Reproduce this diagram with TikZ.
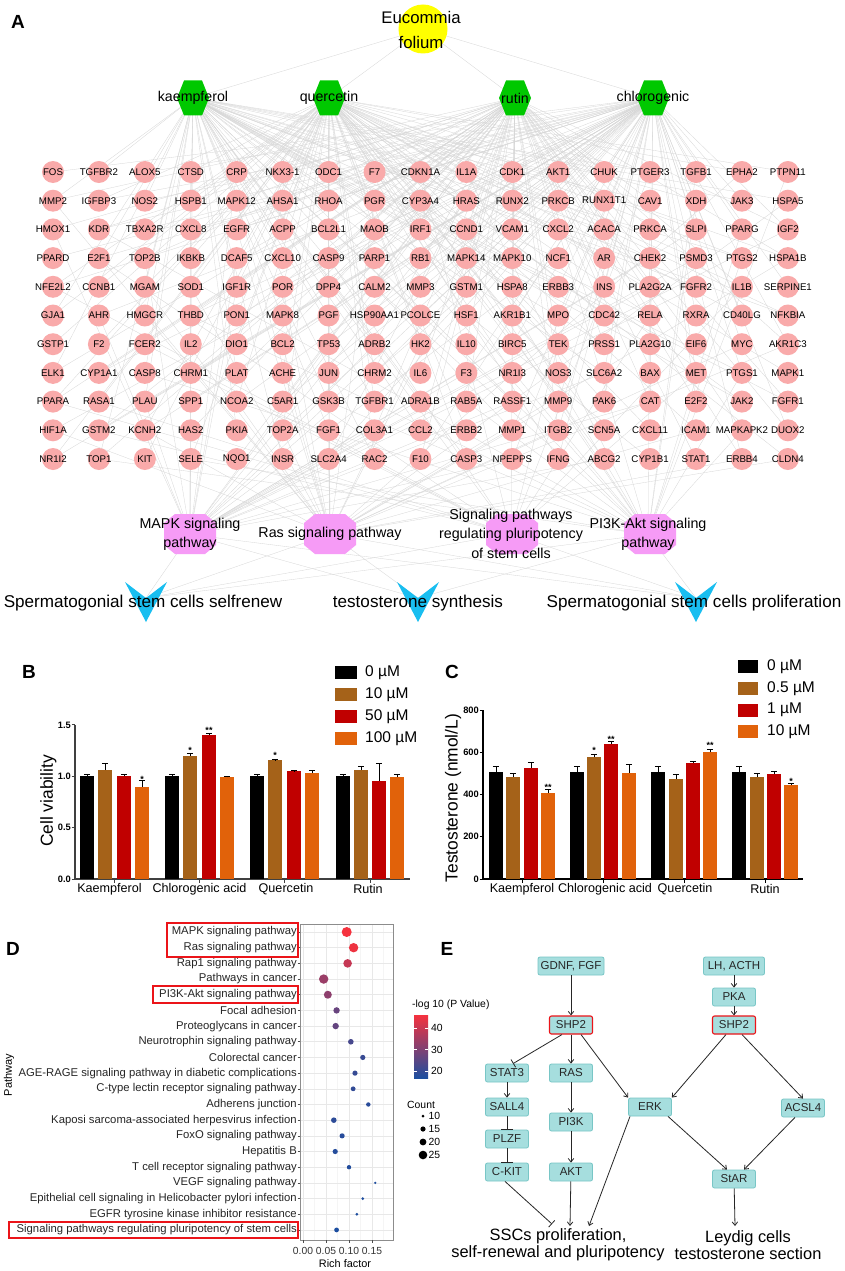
\documentclass[tikz,border=0pt]{standalone}
\usepackage{fontspec}
\setmainfont{Liberation Sans}
\usetikzlibrary{arrows.meta,calc}
\newcommand{\fsz}[2]{\fontsize{#1}{#2}\selectfont}
\pgfdeclarelayer{bg}
\pgfsetlayers{bg,main}
\definecolor{genepink}{RGB}{249,170,170}
\definecolor{hexgreen}{RGB}{0,200,0}
\definecolor{octpink}{RGB}{246,155,246}
\definecolor{chevblue}{RGB}{25,190,240}
\definecolor{eyellow}{RGB}{255,255,0}
\definecolor{cBrown}{RGB}{165,98,25}
\definecolor{cRed}{RGB}{192,0,0}
\definecolor{cOrange}{RGB}{225,98,10}
\definecolor{dRed}{RGB}{245,50,62}
\definecolor{dBlue}{RGB}{28,78,160}
\definecolor{boxfill}{RGB}{166,222,222}
\definecolor{boxline}{RGB}{120,198,198}
\definecolor{edgegray}{RGB}{214,214,214}
\definecolor{redbox}{RGB}{235,20,25}
\newcommand{\vbar}[6]{%
  \fill[#6] ({#1-6.7},#2) rectangle ({#1+6.7},{#2-#3*#4});
  \draw[line width=1pt] (#1,{#2-#3*#4}) -- (#1,{#2-#3*(#4+#5)})
    ({#1-3.2},{#2-#3*(#4+#5)}) -- ({#1+3.2},{#2-#3*(#4+#5)});
}
\begin{document}
\begin{tikzpicture}[x=1pt,y=-1pt,
  netedge/.style={draw=edgegray,line width=0.3pt},
  gene/.style={circle,fill=genepink,minimum size=22pt,inner sep=0pt},
  genelbl/.style={font=\fsz{9.7}{11},inner sep=0pt},
  cplbl/.style={font=\fsz{14.2}{16},inner sep=0pt},
  pwlbl/.style={font=\fsz{14.3}{19.5},align=center,inner sep=0pt},
  outlbl/.style={font=\fsz{17.1}{20},inner sep=0pt},
  panel/.style={font=\fsz{19}{22}\bfseries,inner sep=0pt},
  ticklbl/.style={font=\fsz{9.3}{10}\bfseries,inner sep=0pt},
  catlbl/.style={font=\fsz{12.6}{14},inner sep=0pt},
  leglbl/.style={font=\fsz{15.5}{17},inner sep=0pt,anchor=west},
  starlbl/.style={font=\fsz{9}{10}\bfseries,inner sep=0pt},
  ytitle/.style={font=\fsz{17.4}{19},rotate=90,inner sep=0pt},
  dlbl/.style={font=\fsz{11.3}{13},text=black!85,inner sep=0pt,anchor=east},
  dsmall/.style={font=\fsz{10.3}{12},text=black!80,inner sep=0pt},
  ebox/.style={rectangle,rounded corners=2pt,fill=boxfill,draw=boxline,line width=0.8pt,
    minimum width=43pt,minimum height=18pt,inner sep=2pt,font=\fsz{11.5}{13},text=black!85},
  redb/.style={draw=redbox,line width=1.1pt},
  etext/.style={font=\fsz{16.4}{17},align=center,inner sep=0pt},
  earr/.style={-{Straight Barb[length=3.5pt,width=5.5pt]},line width=0.8pt,black!85},
  einh/.style={-{Bar[width=9pt]},line width=0.8pt,black!85},
  einhw/.style={-{Bar[width=12pt]},line width=0.8pt,black!85}
]
\useasboundingbox (0,0) rectangle (844,1271);

% ================= Panel A =================
\node[panel] (lA) at (18,22) {A};
\node[circle,fill=eyellow,minimum size=49pt,inner sep=0pt] (euc) at (423,29) {};
\node[align=center,font=\fsz{16.8}{25},inner sep=0pt] (euct) at (421,29.5) {Eucommia\\folium};

\foreach \k/\x/\t in {0/193/kaempferol,1/329/quercetin,2/515/rutin,3/653/chlorogenic}{
  \fill[hexgreen] (\x-16,98) -- (\x-9,80.5) -- (\x+9,80.5) -- (\x+16,98) -- (\x+9,115.5) -- (\x-9,115.5) -- cycle;
  \node[cplbl] (cp\k) at (\x,98) {\t};
}

\foreach \g [count=\i from 0] in {FOS,TGFBR2,ALOX5,CTSD,CRP,NKX3-1,ODC1,F7,CDKN1A,IL1A,CDK1,AKT1,CHUK,PTGER3,TGFB1,EPHA2,PTPN11,
MMP2,IGFBP3,NOS2,HSPB1,MAPK12,AHSA1,RHOA,PGR,CYP3A4,HRAS,RUNX2,PRKCB,RUNX1T1,CAV1,XDH,JAK3,HSPA5,
HMOX1,KDR,TBXA2R,CXCL8,EGFR,ACPP,BCL2L1,MAOB,IRF1,CCND1,VCAM1,CXCL2,ACACA,PRKCA,SLPI,PPARG,IGF2,
PPARD,E2F1,TOP2B,IKBKB,DCAF5,CXCL10,CASP9,PARP1,RB1,MAPK14,MAPK10,NCF1,AR,CHEK2,PSMD3,PTGS2,HSPA1B,
NFE2L2,CCNB1,MGAM,SOD1,IGF1R,POR,DPP4,CALM2,MMP3,GSTM1,HSPA8,ERBB3,INS,PLA2G2A,FGFR2,IL1B,SERPINE1,
GJA1,AHR,HMGCR,THBD,PON1,MAPK8,PGF,HSP90AA1,PCOLCE,HSF1,AKR1B1,MPO,CDC42,RELA,RXRA,CD40LG,NFKBIA,
GSTP1,F2,FCER2,IL2,DIO1,BCL2,TP53,ADRB2,HK2,IL10,BIRC5,TEK,PRSS1,PLA2G10,EIF6,MYC,AKR1C3,
ELK1,CYP1A1,CASP8,CHRM1,PLAT,ACHE,JUN,CHRM2,IL6,F3,NR1I3,NOS3,SLC6A2,BAX,MET,PTGS1,MAPK1,
PPARA,RASA1,PLAU,SPP1,NCOA2,C5AR1,GSK3B,TGFBR1,ADRA1B,RAB5A,RASSF1,MMP9,PAK6,CAT,E2F2,JAK2,FGFR1,
HIF1A,GSTM2,KCNH2,HAS2,PKIA,TOP2A,FGF1,COL3A1,CCL2,ERBB2,MMP1,ITGB2,SCN5A,CXCL11,ICAM1,MAPKAPK2,DUOX2,
NR1I2,TOP1,KIT,SELE,NQO1,INSR,SLC2A4,RAC2,F10,CASP3,NPEPPS,IFNG,ABCG2,CYP1B1,STAT1,ERBB4,CLDN4}{
  \pgfmathtruncatemacro\r{div(\i,17)}
  \pgfmathtruncatemacro\c{mod(\i,17)}
  \node[gene] (g\i) at ({53+45.93*\c},{172+28.7*\r}) {};
  \node[genelbl] (gl\i) at (g\i) {\g};
}

% pathway octagons
\foreach \x/\y in {190/534,330/534,512/534,650/534}{
  \fill[octpink] (\x-15,\y-20) -- (\x+15,\y-20) -- (\x+26,\y-11) -- (\x+26,\y+11) -- (\x+15,\y+20) -- (\x-15,\y+20) -- (\x-26,\y+11) -- (\x-26,\y-11) -- cycle;
}
\node[pwlbl] (pw0) at (190,534.5) {MAPK signaling\\pathway};
\node[pwlbl] (pw1) at (330,534) {Ras signaling pathway};
\node[pwlbl] (pw2) at (511,533.5) {Signaling pathways\\regulating pluripotency\\of stem cells};
\node[pwlbl] (pw3) at (648,534.5) {PI3K-Akt signaling\\pathway};

% outcome chevrons
\foreach \x [count=\k from 0] in {146,418,696}{
  \fill[chevblue] (\x-21,582) -- (\x,598) -- (\x+21,582) -- (\x,622) -- cycle;
  \coordinate (ch\k) at (\x,598);
}
\node[outlbl] (o0) at (143,603) {Spermatogonial stem cells selfrenew};
\node[outlbl] (o1) at (418,603) {testosterone synthesis};
\node[outlbl] (o2) at (694,603) {Spermatogonial stem cells proliferation};

\begin{pgfonlayer}{bg}
\fill[white] (0,0) rectangle (844,1271);
\pgfmathsetseed{11}
\foreach \k in {0,...,3} \draw[netedge] (euc.center) -- (cp\k.center);
\foreach \i in {0,...,186}{
  \pgfmathrandominteger{\ka}{0}{3}
  \draw[netedge] (cp\ka.center) -- (g\i.center);
  \pgfmathrandominteger{\kb}{0}{5}
  \ifnum\kb<4 \ifnum\kb=\ka\else \draw[netedge] (cp\kb.center) -- (g\i.center);\fi\fi
  \pgfmathrandominteger{\pa}{0}{6}
  \ifnum\pa<4 \draw[netedge] (pw\pa.center) -- (g\i.center);\fi
}
\foreach \p/\o in {0/0,0/1,0/2,1/0,1/1,1/2,2/0,2/2,3/0,3/1,3/2}
  \draw[netedge] (pw\p.center) -- (ch\o);
\end{pgfonlayer}

% ================= Panel B =================
\node[panel] (lB) at (29,672) {B};
\draw[black!75,line width=1.1pt] (75,725) -- (75,879) -- (410,879);
\foreach \v/\l [count=\k] in {0/0.0,0.5/0.5,1/1.0,1.5/1.5}{
  \draw[black!75,line width=1pt] (71.5,{879-102.7*\v}) -- (75,{879-102.7*\v});
  \node[ticklbl,anchor=east] (bt\k) at (71,{879-102.7*\v}) {\l};
}
\foreach \x in {114.5,199.5,284.5,370} \draw[black!75,line width=1pt] (\x,879) -- (\x,882.5);
\vbar{87}{879}{102.7}{1.0}{0.02}{black}
\vbar{105}{879}{102.7}{1.06}{0.06}{cBrown}
\vbar{124}{879}{102.7}{1.0}{0.02}{cRed}
\vbar{142}{879}{102.7}{0.90}{0.06}{cOrange}
\vbar{172}{879}{102.7}{1.0}{0.02}{black}
\vbar{190}{879}{102.7}{1.20}{0.02}{cBrown}
\vbar{209}{879}{102.7}{1.40}{0.02}{cRed}
\vbar{227}{879}{102.7}{0.99}{0.01}{cOrange}
\vbar{257}{879}{102.7}{1.0}{0.02}{black}
\vbar{275}{879}{102.7}{1.155}{0.006}{cBrown}
\vbar{294}{879}{102.7}{1.05}{0.006}{cRed}
\vbar{312}{879}{102.7}{1.03}{0.03}{cOrange}
\vbar{343}{879}{102.7}{1.0}{0.02}{black}
\vbar{361}{879}{102.7}{1.06}{0.04}{cBrown}
\vbar{379}{879}{102.7}{0.955}{0.165}{cRed}
\vbar{397}{879}{102.7}{0.99}{0.03}{cOrange}
\node[starlbl] (bs1) at (142,779) {*};
\node[starlbl] (bs2) at (190,750) {*};
\node[starlbl] (bs3) at (209,730) {**};
\node[starlbl] (bs4) at (275,755) {*};
\node[ytitle] (byt) at (48.5,801) {Cell viability};
\node[catlbl] (bc1) at (109.5,889) {Kaempferol};
\node[catlbl] (bc2) at (199.5,889) {Chlorogenic acid};
\node[catlbl] (bc3) at (286,889) {Quercetin};
\node[catlbl] (bc4) at (368,889) {Rutin};
\foreach \y/\c/\t [count=\k] in {672.5/black/0 µM,694.5/cBrown/10 µM,716.5/cRed/50 µM,738.5/cOrange/100 µM}{
  \fill[\c] (335,\y-6.5) rectangle (357,\y+6.5);
  \node[leglbl] (bl\k) at (365,\y) {\t};
}

% ================= Panel C =================
\node[panel] (lC) at (452,672) {C};
\draw[black,line width=1.1pt] (483,710) -- (483,879) -- (803,879);
\foreach \v [count=\k] in {0,200,400,600,800}{
  \draw[black,line width=1pt] (479.5,{879-0.21125*\v}) -- (483,{879-0.21125*\v});
  \node[ticklbl,anchor=east] (ct\k) at (479,{879-0.21125*\v}) {\v};
}
\foreach \x in {522,603,684,765} \draw[black,line width=1pt] (\x,879) -- (\x,882.5);
\vbar{496}{879}{0.21125}{508}{23}{black}
\vbar{513}{879}{0.21125}{485}{13}{cBrown}
\vbar{531}{879}{0.21125}{525}{28}{cRed}
\vbar{548}{879}{0.21125}{406}{19}{cOrange}
\vbar{577}{879}{0.21125}{508}{23}{black}
\vbar{594}{879}{0.21125}{577}{13}{cBrown}
\vbar{611}{879}{0.21125}{639}{11}{cRed}
\vbar{629}{879}{0.21125}{503}{41}{cOrange}
\vbar{658}{879}{0.21125}{508}{23}{black}
\vbar{676}{879}{0.21125}{473}{24}{cBrown}
\vbar{693}{879}{0.21125}{548}{6}{cRed}
\vbar{710}{879}{0.21125}{600}{14}{cOrange}
\vbar{739}{879}{0.21125}{508}{23}{black}
\vbar{757}{879}{0.21125}{483}{17}{cBrown}
\vbar{774}{879}{0.21125}{496}{15}{cRed}
\vbar{791}{879}{0.21125}{443}{10}{cOrange}
\node[starlbl] (cs1) at (548,787) {**};
\node[starlbl] (cs2) at (594,750) {*};
\node[starlbl] (cs3) at (611,739) {**};
\node[starlbl] (cs4) at (710,745) {**};
\node[starlbl] (cs5) at (791,781) {*};
\node[ytitle] (cyt) at (453,798) {Testosterone (nmol/L)};
\node[catlbl] (cc1) at (522,889) {Kaempferol};
\node[catlbl] (cc2) at (605,889) {Chlorogenic acid};
\node[catlbl] (cc3) at (685,889) {Quercetin};
\node[catlbl] (cc4) at (765,889) {Rutin};
\foreach \y/\c/\t [count=\k] in {666.5/black/0 µM,688.5/cBrown/0.5 µM,710/cRed/1 µM,731.5/cOrange/10 µM}{
  \fill[\c] (738,\y-6.5) rectangle (758,\y+6.5);
  \node[leglbl] (cl\k) at (767,\y) {\t};
}

% ================= Panel D =================
\node[panel] (lD) at (13,949) {D};
\foreach \x in {314.5,337.5,360.5,383.5} \draw[black!4,line width=0.5pt] (\x,924) -- (\x,1240);
\foreach \x in {303,326,349,372} \draw[black!9,line width=0.6pt] (\x,924) -- (\x,1240);
\foreach \i in {0,...,19} \draw[black!9,line width=0.6pt] (300,{932+15.68*\i}) -- (393,{932+15.68*\i});
\draw[black!45,line width=0.8pt] (300,924) rectangle (393,1240);
\foreach \lab/\xv/\rr/\pc [count=\i from 0] in {
MAPK signaling pathway/0.095/5.0/100,
Ras signaling pathway/0.110/4.7/97,
Rap1 signaling pathway/0.097/4.3/78,
Pathways in cancer/0.045/4.7/58,
PI3K-Akt signaling pathway/0.054/4.0/52,
Focal adhesion/0.073/3.2/35,
Proteoglycans in cancer/0.071/3.2/33,
Neurotrophin signaling pathway/0.104/2.8/20,
Colorectal cancer/0.130/2.6/13,
AGE-RAGE signaling pathway in diabetic complications/0.113/2.6/12,
C-type lectin receptor signaling pathway/0.109/2.4/10,
Adherens junction/0.142/2.2/6,
Kaposi sarcoma-associated herpesvirus infection/0.067/2.8/8,
FoxO signaling pathway/0.085/2.6/5,
Hepatitis B/0.070/2.6/4,
T cell receptor signaling pathway/0.100/2.2/3,
VEGF signaling pathway/0.157/1.3/1,
Epithelial cell signaling in Helicobacter pylori infection/0.130/1.5/1,
EGFR tyrosine kinase inhibitor resistance/0.117/1.5/1,
Signaling pathways regulating pluripotency of stem cells/0.073/2.4/0}{
  \draw[black!70,line width=0.6pt] (297.5,{932+15.68*\i}) -- (300,{932+15.68*\i});
  \node[dlbl] (dl\i) at (297,{932+15.68*\i}) {\lab};
  \fill[dRed!\pc!dBlue] ({303+460*\xv},{932+15.68*\i}) circle (\rr);
}
\foreach \x/\t [count=\k] in {303/0.00,326/0.05,349/0.10,372/0.15}{
  \draw[black!70,line width=0.6pt] (\x,1240) -- (\x,1242.5);
  \node[dsmall] (dx\k) at (\x,1251) {\t};
}
\node[font=\fsz{10.9}{12},inner sep=0pt] (drf) at (345,1264) {Rich factor};
\node[font=\fsz{11}{12},rotate=90,inner sep=0pt] (dpw) at (9,1075) {Pathway};
\draw[redbox,line width=1.2pt] (167,923) rectangle (298,957);
\draw[redbox,line width=1.2pt] (153,986) rectangle (298,1003);
\draw[redbox,line width=1.2pt] (9,1222) rectangle (298,1238);
% legend
\node[font=\fsz{10.4}{12},inner sep=0pt,anchor=west] (dlg) at (412,1005) {-log 10 (P Value)};
\shade[top color=dRed,bottom color=dBlue,middle color=dRed!50!dBlue] (414,1015) rectangle (428,1078);
\foreach \y/\t [count=\k] in {1028/40,1049.5/30,1071/20}{
  \draw[white,line width=0.5pt] (414,\y) -- (417,\y) (425,\y) -- (428,\y);
  \node[font=\fsz{10.4}{12},inner sep=0pt,anchor=west] (dcb\k) at (431,\y) {\t};
}
\node[font=\fsz{10.4}{12},inner sep=0pt,anchor=west] (dcnt) at (407,1105) {Count};
\foreach \y/\r/\t [count=\k] in {1116/1.5/10,1129/2.6/15,1142/3.4/20,1155/4.3/25}{
  \fill[black] (423,\y) circle (\r);
  \node[font=\fsz{10.4}{12},inner sep=0pt,anchor=west] (dcl\k) at (428.5,\y) {\t};
}

% ================= Panel E =================
\node[panel] (lE) at (447,949) {E};
\node[ebox,minimum width=66pt] (gdnf) at (571,966) {GDNF, FGF};
\node[ebox,minimum width=61pt] (lh) at (734,966) {LH, ACTH};
\node[ebox] (pka) at (734,997) {PKA};
\node[ebox,redb] (shpA) at (571,1025) {SHP2};
\node[ebox,redb] (shpB) at (734,1025) {SHP2};
\node[ebox] (stat3) at (507,1073) {STAT3};
\node[ebox] (ras) at (571,1073) {RAS};
\node[ebox] (erk) at (650,1107) {ERK};
\node[ebox] (acsl4) at (803,1108) {ACSL4};
\node[ebox] (sall4) at (507,1107) {SALL4};
\node[ebox] (pi3k) at (571,1122) {PI3K};
\node[ebox] (plzf) at (507,1139) {PLZF};
\node[ebox] (ckit) at (507,1172) {C-KIT};
\node[ebox] (akt) at (571,1172) {AKT};
\node[ebox] (star) at (734,1179) {StAR};
\node[etext] (ssc) at (558,1245) {SSCs proliferation,\\self-renewal and pluripotency};
\node[etext] (leyd) at (748,1245) {Leydig cells\\testosterone section};
\coordinate (sscA) at (552,1224);
\coordinate (sscB) at (570,1226);
\coordinate (sscC) at (589,1226);
\coordinate (leydA) at (735,1226);

\draw[earr] (gdnf) -- (shpA);
\draw[earr] (lh) -- (pka);
\draw[earr] (pka) -- (shpB);
\draw[einh] ([xshift=-9pt]shpA.south) -- ([xshift=6pt]stat3.north);
\draw[earr] (shpA) -- (ras);
\draw[earr] ([xshift=10pt]shpA.south) -- (erk.north west);
\draw[earr] ([xshift=-8pt]shpB.south) -- (erk.north east);
\draw[earr] ([xshift=8pt]shpB.south) -- (acsl4.north);
\draw[earr] (stat3) -- (sall4);
\draw[einhw] (sall4) -- (plzf);
\draw[einhw] (plzf) -- (ckit);
\draw[earr] (ras) -- (pi3k);
\draw[earr] (pi3k) -- (akt);
\draw[einh] ([xshift=-2pt]ckit.south) -- (sscA);
\draw[earr] (akt) -- (sscB);
\draw[earr] ([xshift=-20pt]erk.south) -- (sscC);
\draw[earr] ([xshift=18pt]erk.south) -- ([xshift=-7pt]star.north);
\draw[earr] ([xshift=-8pt]acsl4.south) -- ([xshift=10pt]star.north);
\draw[earr] (star) -- (leydA);
\end{tikzpicture}
\end{document}
